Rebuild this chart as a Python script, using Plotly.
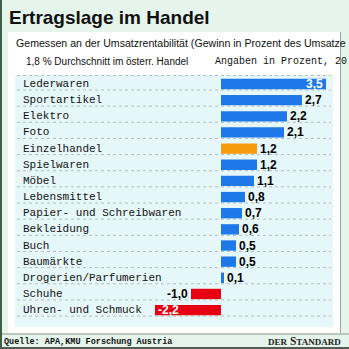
import plotly.graph_objects as go

categories = ["Lederwaren", "Sportartikel", "Elektro", "Foto", "Einzelhandel",
              "Spielwaren", "Möbel", "Lebensmittel", "Papier- und Schreibwaren",
              "Bekleidung", "Buch", "Baumärkte", "Drogerien/Parfumerien",
              "Schuhe", "Uhren- und Schmuck"]
values = [3.5, 2.7, 2.2, 2.1, 1.2, 1.2, 1.1, 0.8, 0.7, 0.6, 0.5, 0.5, 0.1, -1.0, -2.2]

title = "Ertragslage im Handel"
subtitle = "Gemessen an der Umsatzrentabilität (Gewinn in Prozent des Umsatze"
avg_note = "1,8 % Durchschnitt im österr. Handel"
unit_note = "Angaben in Prozent, 20"
source = "Quelle: APA,KMU Forschung Austria"

W = H = 349
def px(x):
    return x / W
def py(y):
    return 1 - y / H

BLUE = "#1f78e8"
ORANGE = "#f59b0c"
RED = "#e60012"
colors = []
for c, v in zip(categories, values):
    if c == "Einzelhandel":
        colors.append(ORANGE)
    elif v < 0:
        colors.append(RED)
    else:
        colors.append(BLUE)

positions = []
for v in values:
    positions.append("inside" if (v >= 3.0 or v < -2.0) else "outside")
textcolors = ["white" if p == "inside" else "black" for p in positions]

fig = go.Figure()
fig.add_trace(go.Bar(
    x=values, y=categories, orientation="h",
    marker=dict(color=colors, line=dict(width=0)),
    width=0.64,
    texttemplate="<b>%{x:.1f}</b>",
    textposition=positions,
    insidetextanchor="end",
    constraintext="none",
    textfont=dict(family="Arial, Liberation Sans, sans-serif", size=12, color=textcolors),
    cliponaxis=False,
    hoverinfo="skip",
))

zero_px = 221
scale = 30.0
x0p, x1p = 15, 333
y0p, y1p = 75, 327
row0, step = 84, 16.15
r_top = -(row0 - y0p) / step
r_bot = (len(categories) - 1) + (y1p - (row0 + step * (len(categories) - 1))) / step

shapes = [
    dict(type="rect", xref="paper", yref="paper", x0=px(8), x1=px(340), y0=py(333), y1=py(32),
         fillcolor="white", line=dict(width=0), layer="below"),
    dict(type="line", xref="paper", yref="paper", x0=px(340.5), x1=px(340.5), y0=py(333), y1=py(32),
         line=dict(color="#9aa6a0", width=1), layer="below"),
    dict(type="rect", xref="paper", yref="paper", x0=px(x0p), x1=px(x1p), y0=py(y1p), y1=py(y0p),
         fillcolor="#e6f7f9", line=dict(width=0), layer="below"),
    dict(type="line", xref="paper", yref="paper", x0=0, x1=1, y0=py(334), y1=py(334),
         line=dict(color="#8c9a92", width=1), layer="below"),
    dict(type="line", xref="paper", yref="paper", x0=px(1), x1=px(1), y0=0, y1=1,
         line=dict(color="#3d5f4a", width=2), layer="above"),
    dict(type="line", xref="paper", yref="paper", x0=0, x1=1, y0=py(348), y1=py(348),
         line=dict(color="#555a57", width=2), layer="above"),
    dict(type="line", xref="paper", yref="paper", x0=px(17), x1=px(331), y0=py(75.5), y1=py(75.5),
         line=dict(color="#b5bcbc", width=1, dash="dot"), layer="below"),
]
for i in range(len(categories)):
    shapes.append(dict(type="line", xref="paper", yref="y", x0=px(17), x1=px(331),
                       y0=i + 0.37, y1=i + 0.37,
                       line=dict(color="#b5bcbc", width=1, dash="dot"), layer="below"))

annotations = [
    dict(text="<b>" + title + "</b>", xref="paper", yref="paper", x=px(7), y=py(17.5),
         xanchor="left", yanchor="middle", showarrow=False,
         font=dict(family="Arial, Liberation Sans, sans-serif", size=19, color="#111111")),
    dict(text=subtitle, xref="paper", yref="paper", x=px(14), y=py(43), xanchor="left",
         yanchor="middle", showarrow=False,
         font=dict(family="Arial, Liberation Sans, sans-serif", size=10.6, color="#111111")),
    dict(text=avg_note, xref="paper", yref="paper", x=px(24), y=py(61.5), xanchor="left",
         yanchor="middle", showarrow=False,
         font=dict(family="Arial, Liberation Sans, sans-serif", size=10, color="#111111")),
    dict(text=unit_note, xref="paper", yref="paper", x=px(213), y=py(62), xanchor="left",
         yanchor="middle", showarrow=False,
         font=dict(family="Liberation Mono, Courier New, monospace", size=10, color="#111111")),
    dict(text="<b>" + source + "</b>", xref="paper", yref="paper", x=px(2), y=py(341.5),
         xanchor="left", yanchor="middle", showarrow=False,
         font=dict(family="Liberation Mono, Courier New, monospace", size=8.5, color="#111111")),
    dict(text="<b><span style='font-size:9px'>DER</span> S<span style='font-size:9px'>TANDARD</span></b>",
         xref="paper", yref="paper", x=px(343), y=py(341), xanchor="right", yanchor="middle",
         showarrow=False,
         font=dict(family="Liberation Serif, DejaVu Serif, serif", size=11.5, color="#222222")),
]
for c in categories:
    annotations.append(dict(text=c, xref="paper", yref="y", x=px(21), y=c, xanchor="left",
                            yanchor="middle", showarrow=False,
                            font=dict(family="Liberation Mono, Courier New, monospace", size=11,
                                      color="#111111")))

fig.update_layout(
    width=W, height=H,
    margin=dict(l=0, r=0, t=0, b=0),
    paper_bgcolor="#e6f5ec",
    plot_bgcolor="rgba(0,0,0,0)",
    separators=",.",
    showlegend=False,
    xaxis=dict(domain=[px(x0p), px(x1p)],
               range=[(x0p - zero_px) / scale, (x1p - zero_px) / scale],
               visible=False, fixedrange=True),
    yaxis=dict(domain=[py(y1p), py(y0p)], type="category",
               range=[r_bot, r_top], visible=False, fixedrange=True),
    shapes=shapes,
    annotations=annotations,
    bargap=0.36,
)

fig.write_html("out.html", config={"displayModeBar": False})
